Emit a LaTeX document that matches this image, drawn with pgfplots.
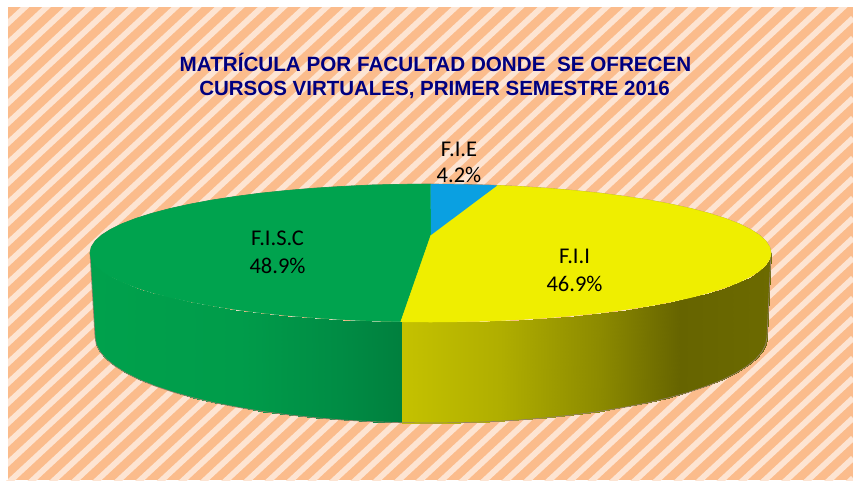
\documentclass[border=0pt]{standalone}
\usepackage{pgfplots}
\usepackage{fontspec}
\pgfplotsset{compat=1.18}
\setmainfont{Carlito}
\newfontfamily\titlefont{Liberation Sans}
\definecolor{bgor}{RGB}{251,188,140}
\definecolor{bglt}{RGB}{253,228,210}
\definecolor{tgreen}{RGB}{0,163,78}
\definecolor{tblue}{RGB}{10,160,225}
\definecolor{tyellow}{RGB}{239,238,0}
\definecolor{tnavy}{RGB}{0,0,128}
\definecolor{rim}{RGB}{150,130,105}
\pgfplotsset{
 colormap={yel}{rgb255(0pt)=(197,194,0); rgb255(310pt)=(197,194,0); rgb255(410pt)=(176,174,0); rgb255(510pt)=(140,138,0); rgb255(590pt)=(102,100,0); rgb255(681pt)=(108,106,0)},
 colormap={grn}{rgb255(0pt)=(0,161,76); rgb255(150pt)=(0,156,74); rgb255(250pt)=(0,140,68); rgb255(310pt)=(0,128,62); rgb255(681pt)=(0,128,62)},
}
\begin{document}
\begin{tikzpicture}
\begin{axis}[
 scale only axis, width=853pt, height=480pt,
 xmin=0, xmax=853, ymin=0, ymax=480, y dir=reverse,
 hide axis, no markers, point meta min=90, point meta max=771,
]
% background
\addplot[fill=bgor,draw=none] coordinates {(0,0)(853,0)(853,480)(0,480)} --cycle;
\addplot[draw=bglt,line width=5.8pt,unbounded coords=jump] coordinates {
(0,10.4)(853,-781.9)(nan,nan)(0,30.4)(853,-761.9)(nan,nan)(0,50.4)(853,-741.9)(nan,nan)(0,70.4)(853,-721.9)(nan,nan)
(0,90.4)(853,-701.9)(nan,nan)(0,110.4)(853,-681.9)(nan,nan)(0,130.4)(853,-661.9)(nan,nan)(0,150.4)(853,-641.9)(nan,nan)
(0,170.4)(853,-621.9)(nan,nan)(0,190.4)(853,-601.9)(nan,nan)(0,210.4)(853,-581.9)(nan,nan)(0,230.4)(853,-561.9)(nan,nan)
(0,250.4)(853,-541.9)(nan,nan)(0,270.4)(853,-521.9)(nan,nan)(0,290.4)(853,-501.9)(nan,nan)(0,310.4)(853,-481.9)(nan,nan)
(0,330.4)(853,-461.9)(nan,nan)(0,350.4)(853,-441.9)(nan,nan)(0,370.4)(853,-421.9)(nan,nan)(0,390.4)(853,-401.9)(nan,nan)
(0,410.4)(853,-381.9)(nan,nan)(0,430.4)(853,-361.9)(nan,nan)(0,450.4)(853,-341.9)(nan,nan)(0,470.4)(853,-321.9)(nan,nan)
(0,490.4)(853,-301.9)(nan,nan)(0,510.4)(853,-281.9)(nan,nan)(0,530.4)(853,-261.9)(nan,nan)(0,550.4)(853,-241.9)(nan,nan)
(0,570.4)(853,-221.9)(nan,nan)(0,590.4)(853,-201.9)(nan,nan)(0,610.4)(853,-181.9)(nan,nan)(0,630.4)(853,-161.9)(nan,nan)
(0,650.4)(853,-141.9)(nan,nan)(0,670.4)(853,-121.9)(nan,nan)(0,690.4)(853,-101.9)(nan,nan)(0,710.4)(853,-81.9)(nan,nan)
(0,730.4)(853,-61.9)(nan,nan)(0,750.4)(853,-41.9)(nan,nan)(0,770.4)(853,-21.9)(nan,nan)(0,790.4)(853,-1.9)(nan,nan)
(0,810.4)(853,18.1)(nan,nan)(0,830.4)(853,38.1)(nan,nan)(0,850.4)(853,58.1)(nan,nan)(0,870.4)(853,78.1)(nan,nan)
(0,890.4)(853,98.1)(nan,nan)(0,910.4)(853,118.1)(nan,nan)(0,930.4)(853,138.1)(nan,nan)(0,950.4)(853,158.1)(nan,nan)
(0,970.4)(853,178.1)(nan,nan)(0,990.4)(853,198.1)(nan,nan)(0,1010.4)(853,218.1)(nan,nan)(0,1030.4)(853,238.1)(nan,nan)
(0,1050.4)(853,258.1)(nan,nan)(0,1070.4)(853,278.1)(nan,nan)(0,1090.4)(853,298.1)(nan,nan)(0,1110.4)(853,318.1)(nan,nan)
(0,1130.4)(853,338.1)(nan,nan)(0,1150.4)(853,358.1)(nan,nan)(0,1170.4)(853,378.1)(nan,nan)(0,1190.4)(853,398.1)(nan,nan)
(0,1210.4)(853,418.1)(nan,nan)(0,1230.4)(853,438.1)(nan,nan)(0,1250.4)(853,458.1)(nan,nan)(0,1270.4)(853,478.1)(nan,nan)
(0,1290.4)(853,498.1)
};
\addplot[fill=white,draw=none] coordinates {(0,0)(8,0)(8,480)(0,480)} --cycle;
\addplot[fill=white,draw=none] coordinates {(0,0)(853,0)(853,7)(0,7)} --cycle;
% side, yellow part (lower rim, then upper rim)
\addplot[surf,shader=interp,colormap name=yel,mesh/rows=2,point meta=x] table {
767 337
765.7 344.5
761.9 351.9
755.5 359.3
746.7 366.4
735.5 373.3
722 380
706.2 386.3
688.4 392.3
668.6 397.8
647 402.9
623.7 407.4
599 411.5
573 414.9
545.9 417.8
518 420.1
489.3 421.7
460.3 422.7
431 423
401.7 422.7
771 253
769.7 259
765.8 265
759.4 270.9
750.5 276.6
739.1 282.2
725.4 287.5
709.4 292.6
691.3 297.4
671.3 301.8
649.4 305.9
625.8 309.5
600.8 312.8
574.4 315.5
547 317.8
518.6 319.6
489.6 321
460.2 321.7
430.5 322
400.8 321.7
};
% side, green part
\addplot[surf,shader=interp,colormap name=grn,mesh/rows=2,point meta=x] table {
401.7 422.7
372.7 421.7
344 420.1
316.1 417.8
289 414.9
263 411.5
238.3 407.4
215 402.9
193.4 397.8
173.6 392.3
155.8 386.3
140 380
126.5 373.3
115.3 366.4
106.5 359.3
100.1 351.9
96.3 344.5
95 337
400.8 321.7
371.4 321
342.4 319.6
314 317.8
286.6 315.5
260.2 312.8
235.2 309.5
211.6 305.9
189.7 301.8
169.7 297.4
151.6 292.6
135.6 287.5
121.9 282.2
110.5 276.6
101.6 270.9
95.2 265
91.3 259
90 253
};
% outer rim of the side
\addplot[draw=rim,line width=0.7pt] coordinates {
(771,253)(767,337)(765.7,344.5)(761.9,351.9)(755.5,359.3)(746.7,366.4)(735.5,373.3)(722,380)(706.2,386.3)(688.4,392.3)(668.6,397.8)(647,402.9)(623.7,407.4)(599,411.5)(573,414.9)(545.9,417.8)(518,420.1)(489.3,421.7)(460.3,422.7)(431,423)(401.7,422.7)(372.7,421.7)(344,420.1)(316.1,417.8)(289,414.9)(263,411.5)(238.3,407.4)(215,402.9)(193.4,397.8)(173.6,392.3)(155.8,386.3)(140,380)(126.5,373.3)(115.3,366.4)(106.5,359.3)(100.1,351.9)(96.3,344.5)(95,337)(90,253)
};
% back rim of the top
\addplot[draw=rim,line width=0.7pt] coordinates {
(90,253)(91.3,247)(95.2,241)(101.6,235.1)(110.5,229.4)(121.9,223.8)(135.6,218.5)(151.6,213.4)(169.7,208.6)(189.7,204.2)(211.6,200.1)(235.2,196.5)(260.2,193.2)(286.6,190.5)(314,188.2)(342.4,186.4)(371.4,185)(400.8,184.3)(430.5,184)(460.2,184.3)(489.6,185)(497.3,185.4)(518.6,186.4)(547,188.2)(574.4,190.5)(600.8,193.2)(625.8,196.5)(649.4,200.1)(671.3,204.2)(691.3,208.6)(709.4,213.4)(725.4,218.5)(739.1,223.8)(750.5,229.4)(759.4,235.1)(765.8,241)(769.7,247)(771,253)
};
% top wedges
\addplot[fill=tgreen,draw=tgreen,line width=0.5pt] coordinates {
(431,235)(400.8,321.7)(371.4,321)(342.4,319.6)(314,317.8)(286.6,315.5)(260.2,312.8)(235.2,309.5)(211.6,305.9)(189.7,301.8)(169.7,297.4)(151.6,292.6)(135.6,287.5)(121.9,282.2)(110.5,276.6)(101.6,270.9)(95.2,265)(91.3,259)(90,253)(91.3,247)(95.2,241)(101.6,235.1)(110.5,229.4)(121.9,223.8)(135.6,218.5)(151.6,213.4)(169.7,208.6)(189.7,204.2)(211.6,200.1)(235.2,196.5)(260.2,193.2)(286.6,190.5)(314,188.2)(342.4,186.4)(371.4,185)(400.8,184.3)(430.5,184)
} --cycle;
\addplot[fill=tyellow,draw=tyellow,line width=0.5pt] coordinates {
(431,235)(497.3,185.4)(518.6,186.4)(547,188.2)(574.4,190.5)(600.8,193.2)(625.8,196.5)(649.4,200.1)(671.3,204.2)(691.3,208.6)(709.4,213.4)(725.4,218.5)(739.1,223.8)(750.5,229.4)(759.4,235.1)(765.8,241)(769.7,247)(771,253)(769.7,259)(765.8,265)(759.4,270.9)(750.5,276.6)(739.1,282.2)(725.4,287.5)(709.4,292.6)(691.3,297.4)(671.3,301.8)(649.4,305.9)(625.8,309.5)(600.8,312.8)(574.4,315.5)(547,317.8)(518.6,319.6)(489.6,321)(460.2,321.7)(430.5,322)(400.8,321.7)
} --cycle;
\addplot[fill=tblue,draw=none] coordinates {
(431,235)(430.5,184)(460.2,184.3)(489.6,185)(497.3,185.4)
} --cycle;
% texts
\node[anchor=base,text=tnavy,font=\titlefont\fontsize{20.65}{24}\selectfont\bfseries] at (axis cs:435.5,71) {MATRÍCULA POR FACULTAD DONDE\ \ SE OFRECEN};
\node[anchor=base,text=tnavy,font=\titlefont\fontsize{20.5}{24}\selectfont\bfseries] at (axis cs:434.5,95) {CURSOS VIRTUALES, PRIMER SEMESTRE 2016};
\node[anchor=base,font=\fontsize{22.5}{26}\selectfont] at (axis cs:459,156) {F.I.E};
\node[anchor=base,font=\fontsize{22.5}{26}\selectfont] at (axis cs:459,182) {4.2\%};
\node[anchor=base,font=\fontsize{22.5}{26}\selectfont] at (axis cs:277.5,245) {F.I.S.C};
\node[anchor=base,font=\fontsize{22.5}{26}\selectfont] at (axis cs:277.5,273) {48.9\%};
\node[anchor=base,font=\fontsize{22.5}{26}\selectfont] at (axis cs:574.5,263) {F.I.I};
\node[anchor=base,font=\fontsize{22.5}{26}\selectfont] at (axis cs:574.5,291) {46.9\%};
\end{axis}
\end{tikzpicture}
\end{document}
